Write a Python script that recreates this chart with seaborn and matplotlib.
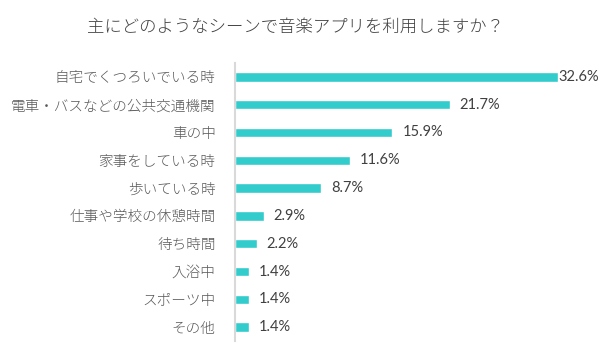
import pandas as pd
import matplotlib
matplotlib.use('Agg')
import matplotlib.pyplot as plt
import seaborn as sns

scenes = ['自宅でくつろいでいる時', '電車・バスなどの公共交通機関', '車の中', '家事をしている時',
          '歩いている時', '仕事や学校の休憩時間', '待ち時間', '入浴中', 'スポーツ中', 'その他']
shares = [32.6, 21.7, 15.9, 11.6, 8.7, 2.9, 2.2, 1.4, 1.4, 1.4]
title = '主にどのようなシーンで音楽アプリを利用しますか？'

df = pd.DataFrame({'scene': scenes, 'share': shares})

sns.set_style('white')
plt.rcParams['font.family'] = ['Noto Sans CJK JP', 'DejaVu Sans']

fig = plt.figure(figsize=(6, 3.59), dpi=100)
ax = fig.add_axes([235 / 600, 18 / 359, 346.5 / 600, 278 / 359])

sns.barplot(data=df, x='share', y='scene', orient='h', color='#33CCCC',
            saturation=1, width=0.34, ax=ax)

ax.set_xlim(0, 35)
ax.set_ylim(9.5, -0.5)
ax.set_xlabel('')
ax.set_ylabel('')
ax.set_xticks([])
for side in ['top', 'right', 'bottom']:
    ax.spines[side].set_visible(False)
ax.spines['left'].set_color('#D9D9D9')
ax.spines['left'].set_linewidth(1.5)
ax.tick_params(axis='y', length=0, pad=14, labelsize=10.5, labelcolor='#595959')
for lbl in ax.get_yticklabels():
    lbl.set_fontweight('light')

# value labels; the longest one sits right against its bar
for i, v in enumerate(shares):
    pad = 0.05 if i == 0 else 1.0
    ax.text(v + pad, i, f'{v}%', va='center', ha='left', fontsize=10.5,
            color='#404040', family=['Lato', 'DejaVu Sans'])

fig.text(295 / 600, 1 - 27 / 359, title, ha='center', va='center',
         fontsize=12.5, color='#404040', fontweight='light')

fig.savefig('out.png', dpi=100, facecolor='white')
